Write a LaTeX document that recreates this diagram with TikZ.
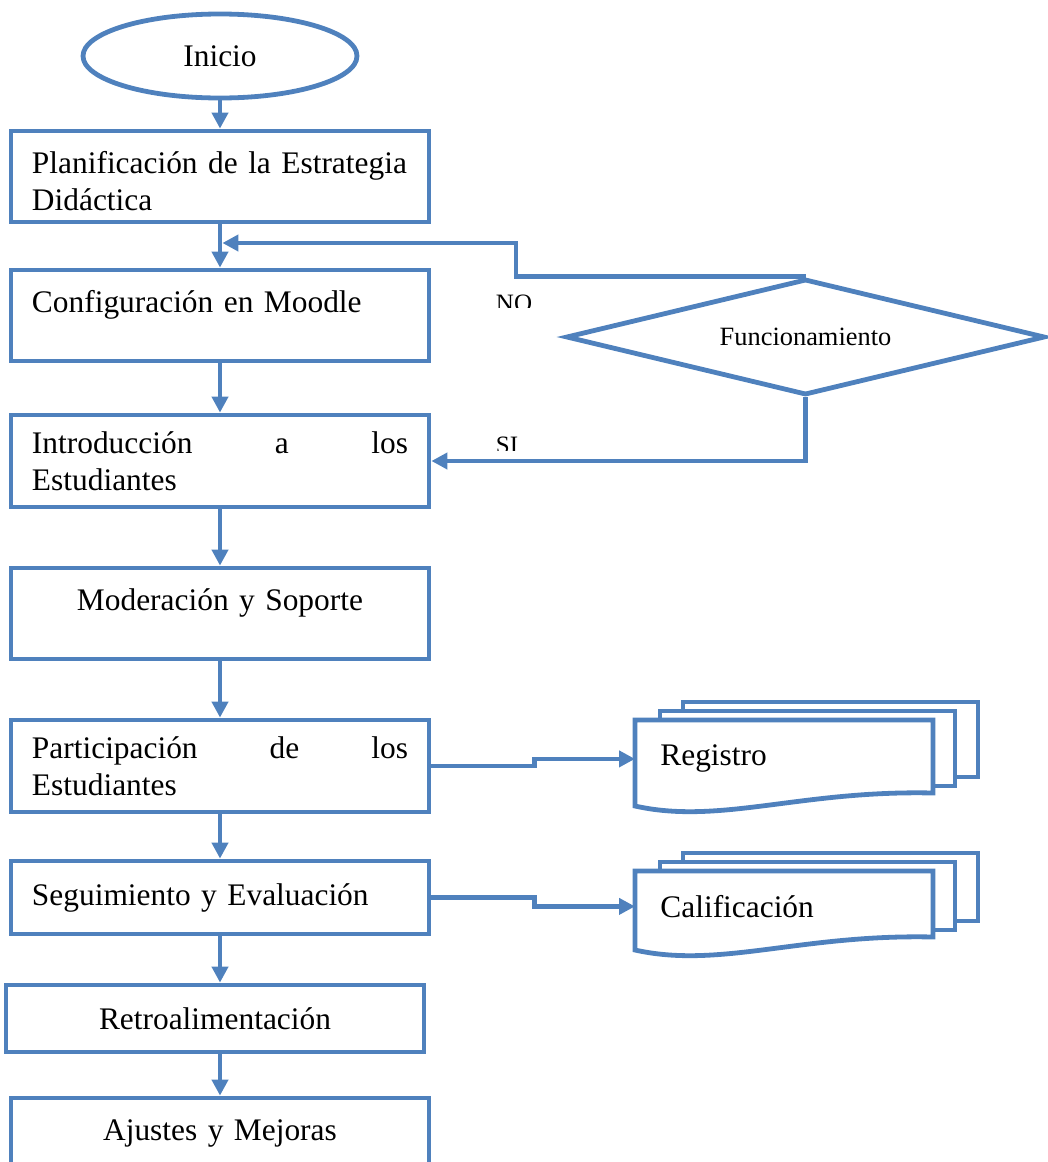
\documentclass[tikz,border=0pt]{standalone}
\usepackage{fontspec}
\setmainfont{Liberation Serif}
\usetikzlibrary{shapes.geometric,arrows.meta,calc}
\definecolor{wordblue}{RGB}{79,129,189}
\newcommand{\docstack}[3]{%
  \filldraw[fill=white] (#1+48,#2-18) rectangle (#1+343,#2+#3-16);
  \filldraw[fill=white] (#1+25,#2-9) rectangle (#1+320,#2+#3-7);
  \filldraw[fill=white] (#1,#2) -- (#1+298,#2) -- (#1+298,#2+#3)
    .. controls (#1+165,#2+#3-3) and (#1+85,#2+#3+32) .. (#1,#2+#3+13) -- cycle;}

\begin{document}
\begin{tikzpicture}[x=0.5pt,y=-0.5pt,color=wordblue,text=black,line width=2.4pt,
	font=\fontsize{15.7}{18.5}\selectfont,
	terminal/.style={draw,ellipse,minimum width=137pt,minimum height=42pt,inner sep=0pt},
	box/.style={draw,rectangle,minimum width=209pt,text width=188pt,inner xsep=10.5pt,inner ysep=0pt,align=left},
	decision/.style={draw,diamond,minimum width=239.5pt,minimum height=58pt,aspect=4.1,inner sep=0pt,font=\fontsize{13.2}{15}\selectfont},
	doctext/.style={anchor=north west,text width=126pt,inner xsep=11.5pt,inner ysep=0pt,align=left},
	lbl/.style={font=\fontsize{12.5}{15}\selectfont},
	flow/.style={-{Triangle[length=8pt,width=8pt]}}]
	\useasboundingbox (0,0) rectangle (1048,1162);

	\node[terminal] (inicio) at (220,56) {Inicio};
	\node[box,minimum height=45.5pt,text height=16pt] (plan) at (220,176.5) {Planificación de la Estrategia\\ Didáctica};
	\node[box,minimum height=45.5pt,text depth=13.8pt] (conf) at (220,315.5) {Configuración en Moodle};
	\node[box,minimum height=46pt] (intro) at (220,461) {Introducción \hfill a \hfill los\\ Estudiantes};
	\node[box,align=center,minimum height=45.5pt,text depth=13.8pt] (mod) at (220,613.5) {Moderación y Soporte};
	\node[box,minimum height=46pt] (part) at (220,766) {Participación \hfill de \hfill los\\ Estudiantes};
	\node[box,minimum height=36.5pt] (seg) at (220,897.5) {Seguimiento y Evaluación};
	\node[box,align=center,minimum height=33.5pt] (retro) at (215,1018.5) {Retroalimentación};
	\node[box,align=center,minimum height=35pt] (ajus) at (220,1133) {Ajustes y Mejoras};

	\node[decision] (dec) at (805.5,337) {Funcionamiento};

	\docstack{635}{720}{73}
	\node[doctext,minimum height=36.5pt] (reg) at (635,720) {Registro};
	\docstack{635}{871}{66}
	\node[doctext,minimum height=33pt] (cal) at (635,871) {Calificación};

	\begin{scope}
		\clip (480,285) rectangle (560,307);
		\node[lbl] (no) at (514,303) {NO};
	\end{scope}
	\begin{scope}
		\clip (480,430) rectangle (560,450);
		\node[lbl] (si) at (507,445) {SI};
	\end{scope}

	\coordinate (join) at (plan.south |- 0,243);

	\path[flow]
	(inicio) edge (plan)
	(plan) edge (conf)
	(conf) edge (intro)
	(intro) edge (mod)
	(mod) edge (part)
	(part) edge (seg)
	(seg.south) edge (seg.south |- retro.north)
	(ajus.north |- retro.south) edge (ajus.north);

	\draw[flow] (dec.north) -- ++(-289.5,0) |- ([xshift=1.2pt]join);
	\draw[flow] (dec.south) |- (intro.east);
	\draw[flow] (part.east) -- ++(103,0) |- (reg.west);
	\draw[flow] (seg.east) -- ++(103,0) |- (cal.west);
\end{tikzpicture}
\end{document}
